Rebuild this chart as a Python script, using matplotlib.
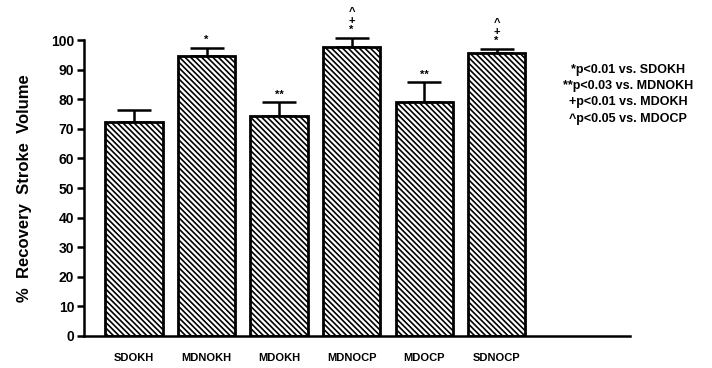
import matplotlib

matplotlib.use('agg')
import matplotlib.pyplot as plt

groups = ['SDOKH', 'MDNOKH', 'MDOKH', 'MDNOCP', 'MDOCP', 'SDNOCP']
recovery = [72.2, 94.5, 74.4, 97.6, 79.2, 95.6]
sem = [4.2, 2.9, 4.6, 3.1, 6.6, 1.4]
# significance marks, listed bottom to top
marks = [[], ['*'], ['**'], ['*', '+', '^'], ['**'], ['*', '+', '^']]
notes = ['*p<0.01 vs. SDOKH', '**p<0.03 vs. MDNOKH',
         '+p<0.01 vs. MDOKH', '^p<0.05 vs. MDOCP']

plt.rcParams['font.family'] = ['Liberation Sans', 'DejaVu Sans']
plt.rcParams['font.weight'] = 'bold'
plt.rcParams['hatch.linewidth'] = 1.2

fig = plt.figure(figsize=(7.12, 3.68), dpi=100)
ax = fig.add_axes([0.118, 0.087, 0.767, 0.804])

x = list(range(len(groups)))
ax.bar(x, recovery, width=0.79, color='white', edgecolor='black',
       linewidth=2, hatch='\\\\\\\\\\\\', zorder=2)
eb = ax.errorbar(x, recovery, yerr=[[0] * len(sem), sem], fmt='none',
                 ecolor='black', elinewidth=1.8, capsize=12, capthick=1.8,
                 zorder=1)
for part in eb.lines[1] + eb.lines[2]:
    part.set_clip_on(False)

for xi, top, err, m in zip(x, recovery, sem, marks):
    for k, s in enumerate(m):
        ax.annotate(s, (xi, top + err), xytext=(0, 2 + 6.6 * k),
                    textcoords='offset points', ha='center', va='bottom',
                    fontsize=8, fontweight='bold', annotation_clip=False)

ax.set_xlim(-0.69, 6.84)
ax.set_ylim(0, 100)
ax.set_yticks(range(0, 101, 10))
ax.set_xticks(x)
ax.set_xticklabels(groups, fontsize=8)
ax.tick_params(axis='x', length=0, pad=12)
ax.tick_params(axis='y', length=5, width=1.8, labelsize=10, pad=2)
for lab in ax.get_yticklabels() + ax.get_xticklabels():
    lab.set_fontweight('bold')

ax.spines['top'].set_visible(False)
ax.spines['right'].set_visible(False)
ax.spines['left'].set_linewidth(1.8)
ax.spines['bottom'].set_linewidth(1.8)

ax.set_ylabel('%  Recovery  Stroke  Volume', fontsize=12, fontweight='bold',
              labelpad=14)

fig.text(0.882, 0.825, '\n'.join(notes), ha='center', va='top',
         fontsize=9, fontweight='bold', linespacing=1.45)

plt.savefig('out.png', dpi=100)
